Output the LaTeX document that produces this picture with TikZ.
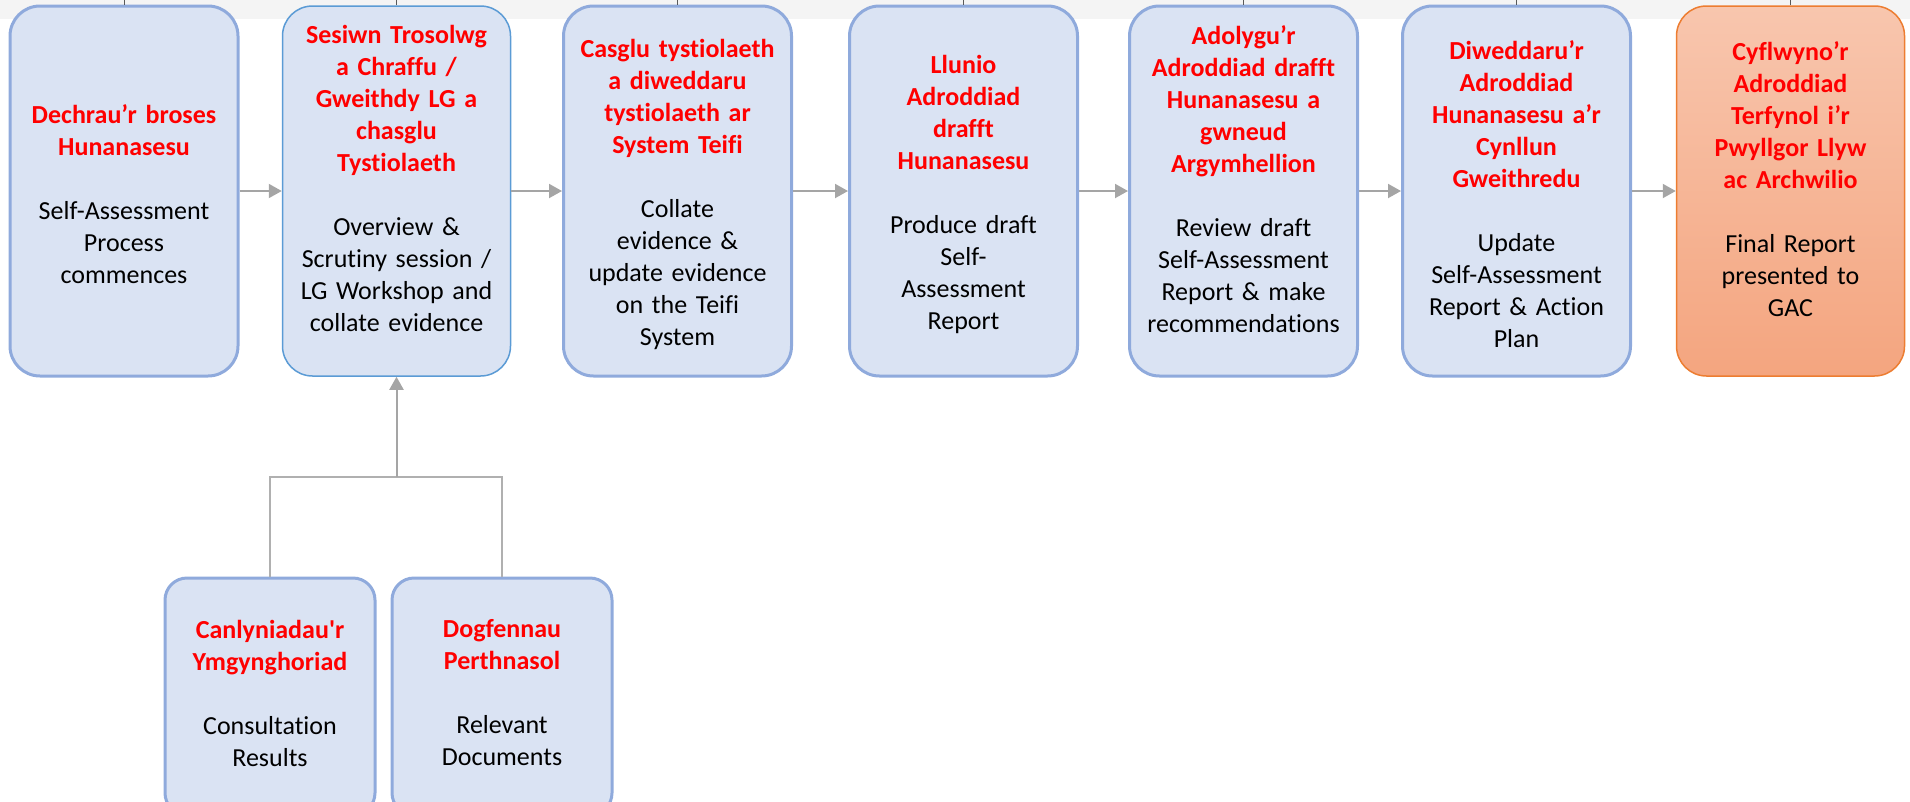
\documentclass[tikz,border=0pt]{standalone}
\usepackage{fontspec}
\setmainfont{Carlito}[Ligatures={TeX,NoCommon}]
\usetikzlibrary{arrows.meta}
\definecolor{boxfill}{HTML}{DAE3F3}
\definecolor{boxdraw}{HTML}{8FAADC}
\definecolor{boxdrawb}{HTML}{5B9BD5}
\definecolor{titlered}{HTML}{FF0000}
\definecolor{arrgray}{HTML}{A5A5A5}
\definecolor{conngray}{HTML}{B0B0B0}
\definecolor{bandgray}{HTML}{F4F4F4}
\definecolor{tickgray}{HTML}{595959}
\definecolor{orangetop}{HTML}{F8C6AE}
\definecolor{orangebot}{HTML}{F4A57F}
\definecolor{orangedraw}{HTML}{ED7D31}
\newcommand{\ttl}[1]{{\bfseries\color{titlered}#1}}
\begin{document}
\begin{tikzpicture}[x=1pt,y=-1pt,
  box/.style={draw=boxdraw, line width=3pt, fill=boxfill, rounded corners=30pt,
    minimum width=228pt, minimum height=370pt, inner sep=0pt},
  boxb/.style={box, draw=boxdrawb, line width=1.5pt},
  boxo/.style={box, draw=orangedraw, line width=1.5pt, top color=orangetop, bottom color=orangebot},
  sbox/.style={box, rounded corners=22pt, minimum height=237pt},
  txt/.style={align=center, text width=226pt, font=\fontsize{26}{32}\selectfont, inner sep=0pt, text=black},
  arr/.style={draw=arrgray, line width=2pt, -{Triangle[length=13pt,width=14pt]}},
  conn/.style={draw=conngray, line width=1.8pt},
  tick/.style={draw=tickgray, line width=1pt},
]
\useasboundingbox (0,0) rectangle (1910,801);
\clip (0,0) rectangle (1910,801);
\fill[bandgray] (0,0) rectangle (1910,19);

% top row boxes
\node[box]  (b1) at (124,191) {};
\node[boxb] (b2) at (396.5,191) {};
\node[box]  (b3) at (677.5,191) {};
\node[box]  (b4) at (963.5,191) {};
\node[box]  (b5) at (1243.5,191) {};
\node[box]  (b6) at (1516.5,191) {};
\node[boxo] (b7) at (1790.5,191) {};

% bottom boxes
\node[sbox, minimum width=210pt] (c1) at (270,696.5) {};
\node[sbox, minimum width=220pt] (c2) at (502,696.5) {};

% ticks from the top band
\foreach \bx in {b1,b2,b3,b4,b5,b6,b7}
  \draw[tick] (\bx.north) -- (\bx.north |- 0,0);

% texts
\node[txt] (t1) at (124,194) {\ttl{Dechrau’r broses\\ Hunanasesu}\\[32pt] Self-Assessment\\ Process\\ commences};
\node[txt] (t2) at (396.5,178) {\ttl{Sesiwn Trosolwg\\ a Chraffu /\\ Gweithdy LG a\\ chasglu\\ Tystiolaeth}\\[32pt] Overview \&\\ Scrutiny session /\\ LG Workshop and\\ collate evidence};
\node[txt] (t3) at (677.5,194) {\ttl{Casglu tystiolaeth\\ a diweddaru\\ tystiolaeth ar\\ System Teifi}\\[32pt] Collate\\ evidence \&\\ update evidence\\ on the Teifi\\ System};
\node[txt] (t4) at (963.5,194) {\ttl{Llunio\\ Adroddiad\\ drafft\\ Hunanasesu}\\[32pt] Produce draft\\ Self-\\ Assessment\\ Report};
\node[txt] (t5) at (1243.5,179) {\ttl{Adolygu’r\\ Adroddiad drafft\\ Hunanasesu a\\ gwneud\\ Argymhellion}\\[32pt] Review draft\\ Self-Assessment\\ Report \& make\\ recommendations};
\node[txt] (t6) at (1516.5,194) {\ttl{Diweddaru’r\\ Adroddiad\\ Hunanasesu a’r\\ Cynllun\\ Gweithredu}\\[32pt] Update\\ Self-Assessment\\ Report \& Action\\ Plan};
\node[txt] (t7) at (1790.5,179) {\ttl{Cyflwyno’r\\ Adroddiad\\ Terfynol i’r\\ Pwyllgor Llyw\\ ac Archwilio}\\[32pt] Final Report\\ presented to\\ GAC};
\node[txt] (tc1) at (270,693) {\ttl{Canlyniadau\textquotesingle r\\ Ymgynghoriad}\\[32pt] Consultation\\ Results};
\node[txt] (tc2) at (502,693) {\ttl{Dogfennau\\ Perthnasol}\\[32pt] Relevant\\ Documents};

% horizontal flow arrows
\draw[arr] (b1.east) -- (b2.west);
\draw[arr] (b2.east) -- (b3.west);
\draw[arr] (b3.east) -- (b4.west);
\draw[arr] (b4.east) -- (b5.west);
\draw[arr] (b5.east) -- (b6.west);
\draw[arr] (b6.east) -- (b7.west);

% feed from bottom boxes
\coordinate (j) at (396.5,477);
\draw[conn] (c1.north) |- (j);
\draw[conn] (c2.north) |- (j);
\draw[arr] (j) -- (b2.south);
\end{tikzpicture}
\end{document}
